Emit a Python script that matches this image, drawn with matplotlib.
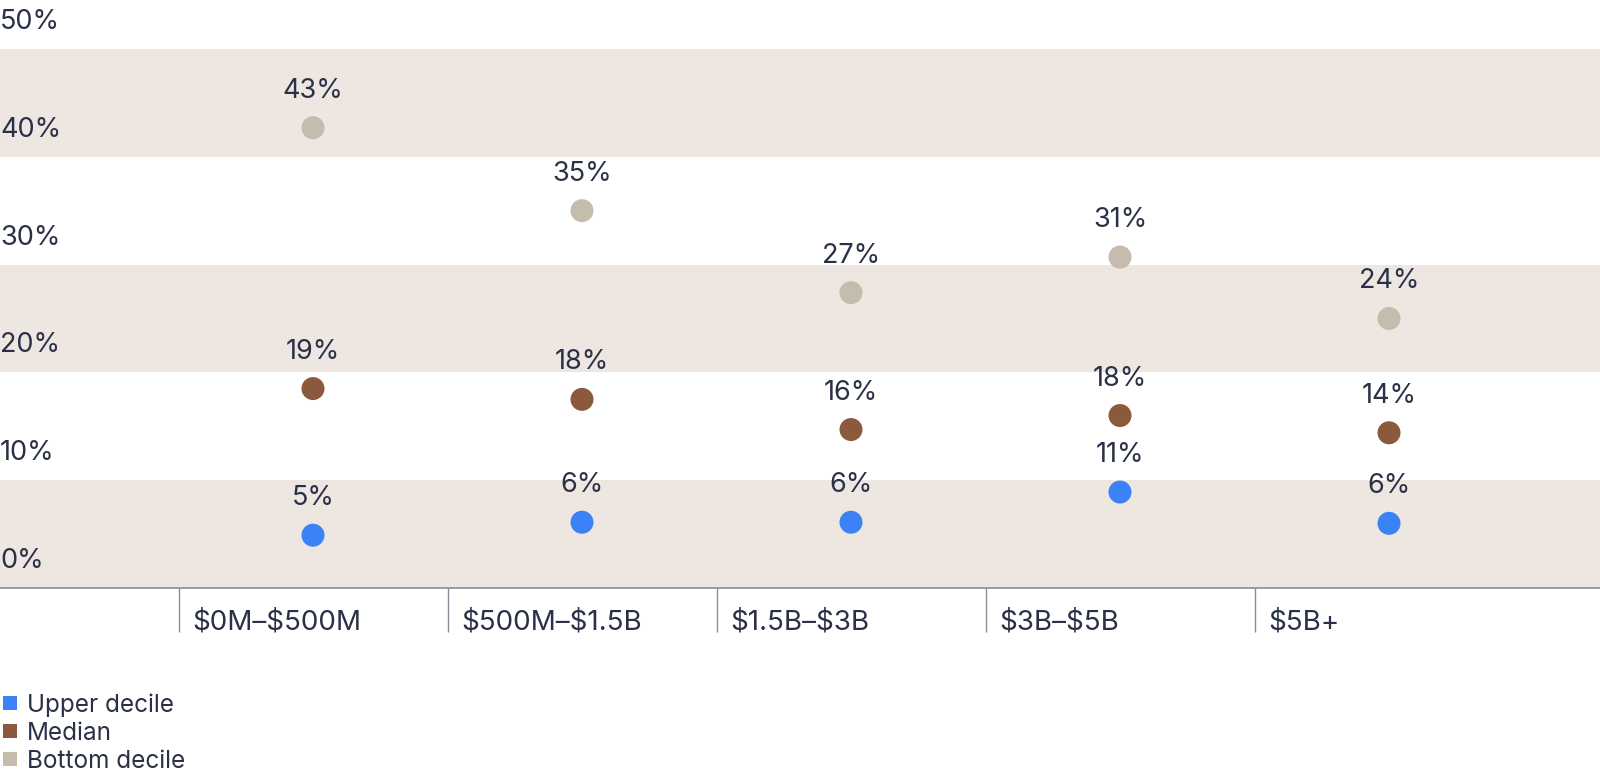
import matplotlib

matplotlib.use("Agg")
import matplotlib.pyplot as plt
from matplotlib.patches import Rectangle
from matplotlib.transforms import offset_copy

plt.rcParams["font.family"] = ["Inter", "DejaVu Sans"]
plt.rcParams["text.parse_math"] = False

CATEGORIES = ["$0M–$500M", "$500M–$1.5B", "$1.5B–$3B", "$3B–$5B", "$5B+"]
SERIES = ["Upper decile", "Median", "Bottom decile"]

# dot positions (%)
UPPER = [4.9, 6.1, 6.1, 8.9, 6.0]
MEDIAN = [18.5, 17.5, 14.7, 16.0, 14.4]
BOTTOM = [42.7, 35.0, 27.4, 30.7, 25.0]

# printed value labels
UPPER_LABELS = ["5%", "6%", "6%", "11%", "6%"]
MEDIAN_LABELS = ["19%", "18%", "16%", "18%", "14%"]
BOTTOM_LABELS = ["43%", "35%", "27%", "31%", "24%"]

Y_TICKS = [0, 10, 20, 30, 40, 50]
BANDS = [(0, 10), (20, 30), (40, 50)]

COLORS = ["#3B82F6", "#8B5A3C", "#C4BCAC"]
BAND_COLOR = "#EDE6E1"
TEXT_COLOR = "#2A3045"
LINE_COLOR = "#8A8D99"

W, H, DPI = 1600, 777, 100
fig = plt.figure(figsize=(W / DPI, H / DPI), dpi=DPI)

# axes: 0% at y=588 px, 50% at y=49 px, full width
ax = fig.add_axes([0, 1 - 588 / H, 1, (588 - 49) / H])
ax.set_ylim(0, 50)
ax.set_xlim(-313 / 269, (1600 - 313) / 269)

for lo, hi in BANDS:
    ax.axhspan(lo, hi, color=BAND_COLOR, lw=0, zorder=0)

for spine in ["top", "right", "left"]:
    ax.spines[spine].set_visible(False)
ax.spines["bottom"].set_color(LINE_COLOR)
ax.spines["bottom"].set_linewidth(1.2)

ax.set_yticks([])
x = list(range(len(CATEGORIES)))
ax.set_xticks([i - 0.5 for i in x])
ax.set_xticklabels([])
ax.tick_params(axis="x", length=44 * 72 / DPI, width=1, color=LINE_COLOR, direction="out")

# y labels sit above their gridline
ylab_tr = offset_copy(ax.get_yaxis_transform(), fig=fig, x=0, y=20, units="dots")
for t in Y_TICKS:
    ax.text(0.0, t, f"{t}%", transform=ylab_tr, ha="left", va="baseline",
            fontsize=19.5, color=TEXT_COLOR, clip_on=False)

# category labels right of each separator
cat_tr = offset_copy(ax.get_xaxis_transform(), fig=fig, x=14, y=-42, units="dots")
for i, cat in zip(x, CATEGORIES):
    ax.text(i - 0.5, 0, cat, transform=cat_tr, ha="left", va="baseline",
            fontsize=20, color=TEXT_COLOR, clip_on=False)

dot_size = (23 * 72 / DPI) ** 2
for values, labels, color in zip([UPPER, MEDIAN, BOTTOM],
                                 [UPPER_LABELS, MEDIAN_LABELS, BOTTOM_LABELS], COLORS):
    ax.scatter(x, values, s=dot_size, color=color, edgecolors="none", zorder=3)
    for xi, v, lab in zip(x, values, labels):
        ax.annotate(lab, (xi, v), xytext=(0, 30 * 72 / DPI), textcoords="offset points",
                    ha="center", va="baseline", fontsize=19.5, color=TEXT_COLOR, zorder=4)

# legend, drawn by hand at bottom left
for k, (name, color) in enumerate(zip(SERIES, COLORS)):
    yc = 703 + 28 * k
    fig.patches.append(Rectangle((3 / W, 1 - (yc + 7) / H), 14 / W, 14 / H,
                                 transform=fig.transFigure, color=color, lw=0))
    fig.text(27 / W, 1 - (yc + 9) / H, name, ha="left", va="baseline",
             fontsize=17.5, color=TEXT_COLOR)

fig.savefig("out.png", dpi=DPI, facecolor="white")
